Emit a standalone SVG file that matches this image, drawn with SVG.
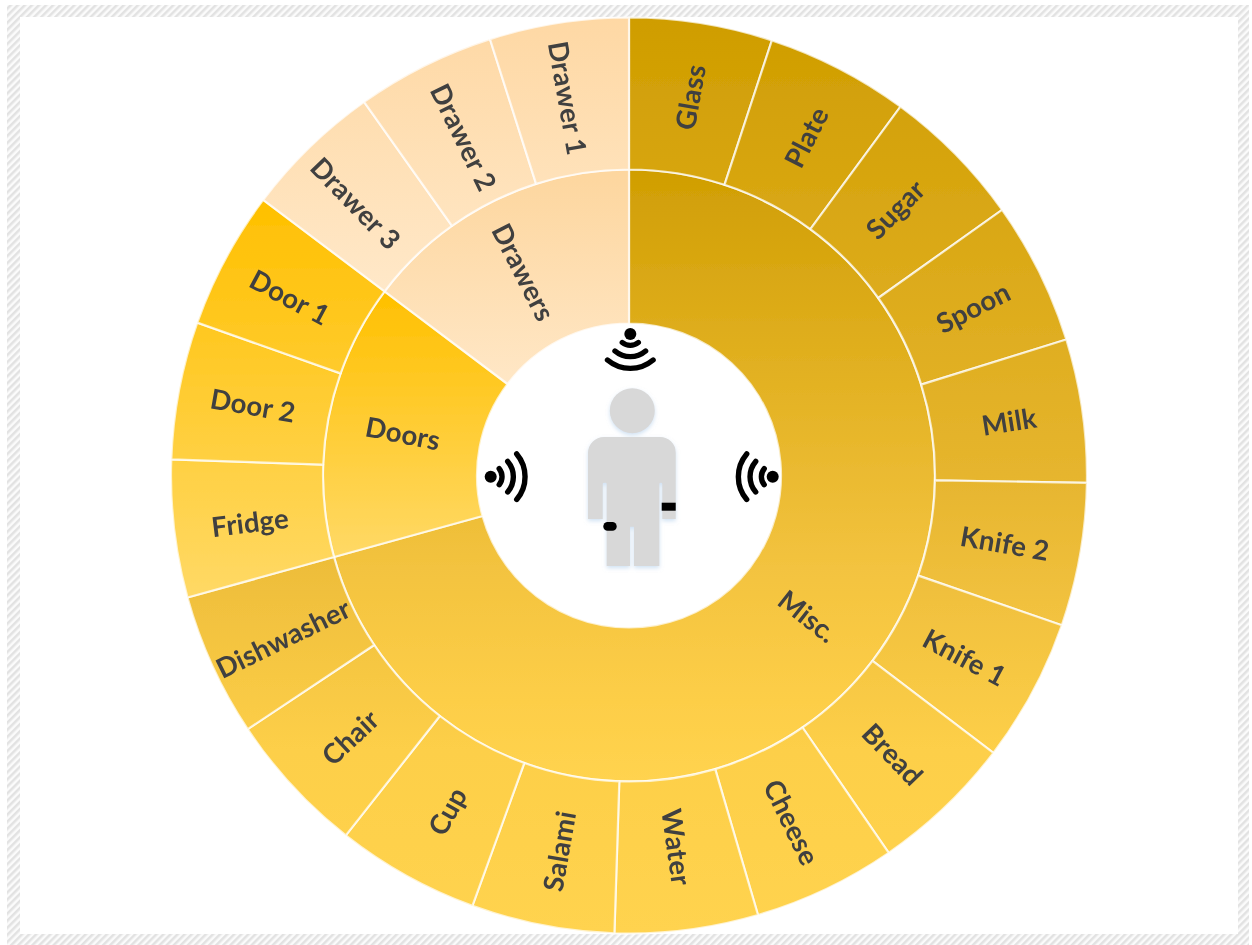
<svg xmlns="http://www.w3.org/2000/svg" width="1252" height="945" viewBox="0 0 1252 945">
<style>
.s{stroke:#fff;stroke-opacity:.72;stroke-width:2.2;stroke-linejoin:round}
.m{fill:url(#gm)}.mi{fill:url(#gmi)}.do{fill:url(#gdo)}.di{fill:url(#gdi)}.dro{fill:url(#gro)}.dri{fill:url(#gri)}
text{font-family:Lato,"Liberation Sans",sans-serif;font-weight:700;font-size:27.5px;letter-spacing:.2px;fill:#404040;text-anchor:middle;dominant-baseline:central}
.w{fill:none;stroke:#000;stroke-width:5.4;stroke-linecap:round}
.body{fill:#d8d8d8}
</style>
<defs>
<pattern id="hatch" width="5" height="5" patternUnits="userSpaceOnUse" patternTransform="rotate(45)"><rect width="5" height="5" fill="#fbfbfb"/><rect width="2.5" height="5" fill="#e2e2e2"/></pattern>
<filter id="soft" x="-2%" y="-2%" width="104%" height="104%"><feGaussianBlur stdDeviation="0.7"/></filter>
<filter id="shadow" x="-20%" y="-20%" width="140%" height="140%"><feDropShadow dx="0" dy="2" stdDeviation="2" flood-color="#a8c8e8" flood-opacity=".55"/></filter>
<linearGradient id="gm" gradientUnits="userSpaceOnUse" x1="0" y1="17" x2="0" y2="933"><stop offset="0" stop-color="#cf9d00"/><stop offset=".5" stop-color="#e6b52e"/><stop offset=".64" stop-color="#f1c13e"/><stop offset=".8" stop-color="#fdcf48"/><stop offset="1" stop-color="#ffd34f"/></linearGradient>
<linearGradient id="gmi" gradientUnits="userSpaceOnUse" x1="0" y1="170" x2="0" y2="781"><stop offset="0" stop-color="#d09e03"/><stop offset=".65" stop-color="#f3c33f"/><stop offset=".87" stop-color="#fdce47"/><stop offset="1" stop-color="#ffd34f"/></linearGradient>
<linearGradient id="gdo" gradientUnits="userSpaceOnUse" x1="0" y1="200" x2="0" y2="600"><stop offset="0" stop-color="#ffc000"/><stop offset="1" stop-color="#ffd966"/></linearGradient>
<linearGradient id="gdi" gradientUnits="userSpaceOnUse" x1="0" y1="291" x2="0" y2="557"><stop offset="0" stop-color="#ffc000"/><stop offset="1" stop-color="#ffd966"/></linearGradient>
<linearGradient id="gro" gradientUnits="userSpaceOnUse" x1="0" y1="17" x2="0" y2="290"><stop offset="0" stop-color="#fed8a4"/><stop offset="1" stop-color="#ffe8c8"/></linearGradient>
<linearGradient id="gri" gradientUnits="userSpaceOnUse" x1="0" y1="170" x2="0" y2="384"><stop offset="0" stop-color="#fdd69e"/><stop offset="1" stop-color="#ffe7c6"/></linearGradient>
</defs>
<rect width="1252" height="945" fill="#fff"/>
<g filter="url(#soft)">
<path id="frame" fill="url(#hatch)" fill-rule="evenodd" d="M7 5H1249V947H7ZM20 17V934H1238V17Z"/>
<g id="rings">
<g id="misc"><path class="s mi" d="M629 169.5A306 306 0 1 1 334 557L482.5 516A152 152 0 1 0 629 323.5Z"/><text transform="translate(808 616) rotate(38)">Misc.</text></g>
<g id="doors"><path class="s di" d="M334 557A306 306 0 0 1 384.6 291.3L507.6 384A152 152 0 0 0 482.5 516Z"/><text transform="translate(403 433) rotate(11)">Doors</text></g>
<g id="drawers"><path class="s dri" d="M384.6 291.3A306 306 0 0 1 629 169.5V323.5A152 152 0 0 0 507.6 384Z"/><text transform="translate(524 272) rotate(63)">Drawers</text></g>

<g id="glass"><path class="s m" d="M629 17.5A458 458 0 0 1 771.9 40.4L724.5 184.8A306 306 0 0 0 629 169.5Z"/><text transform="translate(690 97) rotate(-80)">Glass</text></g>
<g id="plate"><path class="s m" d="M771.9 40.4A458 458 0 0 1 900.5 106.7L810.4 229.1A306 306 0 0 0 724.5 184.8Z"/><text transform="translate(806 137) rotate(-63)">Plate</text></g>
<g id="sugar"><path class="s m" d="M900.5 106.7A458 458 0 0 1 1002.1 209.9L878.3 298A306 306 0 0 0 810.4 229.1Z"/><text transform="translate(895 209) rotate(-45)">Sugar</text></g>
<g id="spoon"><path class="s m" d="M1002.1 209.9A458 458 0 0 1 1066.3 339.5L921.2 384.6A306 306 0 0 0 878.3 298Z"/><text transform="translate(973 307) rotate(-27)">Spoon</text></g>
<g id="milk"><path class="s m" d="M1066.3 339.5A458 458 0 0 1 1086.9 482.8L935 480.4A306 306 0 0 0 921.2 384.6Z"/><text transform="translate(1009 421) rotate(-9)">Milk</text></g>
<g id="knife2"><path class="s m" d="M1086.9 482.8A458 458 0 0 1 1061.8 625.3L918.2 575.6A306 306 0 0 0 935 480.4Z"/><text transform="translate(1005 543) rotate(10)">Knife 2</text></g>
<g id="knife1"><path class="s m" d="M1061.8 625.3A458 458 0 0 1 993.4 752.9L872.5 660.8A306 306 0 0 0 918.2 575.6Z"/><text transform="translate(965 657) rotate(28)">Knife 1</text></g>
<g id="bread"><path class="s m" d="M993.4 752.9A458 458 0 0 1 888.7 852.8L802.5 727.5A306 306 0 0 0 872.5 660.8Z"/><text transform="translate(893 754) rotate(46)">Bread</text></g>
<g id="cheese"><path class="s m" d="M888.7 852.8A458 458 0 0 1 758 915L715.2 769.1A306 306 0 0 0 802.5 727.5Z"/><text transform="translate(792 822) rotate(64)">Cheese</text></g>
<g id="water"><path class="s m" d="M758 915A458 458 0 0 1 614.4 933.3L619.3 781.3A306 306 0 0 0 715.2 769.1Z"/><text transform="translate(677 847) rotate(82)">Water</text></g>
<g id="salami"><path class="s m" d="M614.4 933.3A458 458 0 0 1 472.4 905.9L524.3 763A306 306 0 0 0 619.3 781.3Z"/><text transform="translate(559 851) rotate(-80)">Salami</text></g>
<g id="cup"><path class="s m" d="M472.4 905.9A458 458 0 0 1 345.8 835.4L439.8 716A306 306 0 0 0 524.3 763Z"/><text transform="translate(447 811) rotate(-61)">Cup</text></g>
<g id="chair"><path class="s m" d="M345.8 835.4A458 458 0 0 1 247.7 729.2L374.2 645A306 306 0 0 0 439.8 716Z"/><text transform="translate(350 737) rotate(-43)">Chair</text></g>
<g id="dishwasher"><path class="s m" d="M247.7 729.2A458 458 0 0 1 187.5 597.5L334 557A306 306 0 0 0 374.2 645Z"/><text transform="translate(283 638) rotate(-26)">Dishwasher</text></g>
<g id="fridge"><path class="s do" d="M187.5 597.5A458 458 0 0 1 171.3 459.3L323.2 464.7A306 306 0 0 0 334 557Z"/><text transform="translate(250 522) rotate(-7)">Fridge</text></g>
<g id="door2"><path class="s do" d="M171.3 459.3A458 458 0 0 1 197.3 322.6L340.6 373.4A306 306 0 0 0 323.2 464.7Z"/><text transform="translate(253 405) rotate(10)">Door 2</text></g>
<g id="door1"><path class="s do" d="M197.3 322.6A458 458 0 0 1 263.2 199.9L384.6 291.3A306 306 0 0 0 340.6 373.4Z"/><text transform="translate(290 297) rotate(28)">Door 1</text></g>
<g id="drawer3"><path class="s dro" d="M263.2 199.9A458 458 0 0 1 364.1 101.9L452 225.9A306 306 0 0 0 384.6 291.3Z"/><text transform="translate(356 203) rotate(46)">Drawer 3</text></g>
<g id="drawer2"><path class="s dro" d="M364.1 101.9A458 458 0 0 1 490 39.1L536.1 183.9A306 306 0 0 0 452 225.9Z"/><text transform="translate(464 137) rotate(64)">Drawer 2</text></g>
<g id="drawer1"><path class="s dro" d="M490 39.1A458 458 0 0 1 629 17.5V169.5A306 306 0 0 0 536.1 183.9Z"/><text transform="translate(568 98) rotate(80)">Drawer 1</text></g>
</g>
<g id="person">
<g filter="url(#shadow)">
<circle class="body" cx="632.3" cy="410.7" r="22.5"/>
<path class="body" d="M604 437H660A15.7 15.7 0 0 1 675.7 452.7V519H662.3V484Q662.3 482.7 661 482.7H660.6Q659.3 482.7 659.3 484V566H634V526.7H630V566H606.7V484Q606.7 482.7 605.4 482.7H604Q602.7 482.7 602.7 484V519H588V453A16 16 0 0 1 604 437Z"/>
</g>
<rect x="661.7" y="502.7" width="14" height="8"/>
<rect x="603.3" y="522" width="13.4" height="8.7" rx="4.3"/>
</g>
<g id="signal-top">
<circle cx="630.3" cy="334" r="6"/>
<path class="w" d="M622.3 342.5A12.7 12.7 0 0 0 638.3 342.5M615 351A23.5 23.5 0 0 0 645.6 351M607.5 360A35.3 35.3 0 0 0 653.1 360"/>
</g>
<g id="signal-left">
<circle cx="490.7" cy="476.7" r="6"/>
<path class="w" d="M499.2 468.7A12.7 12.7 0 0 1 499.2 484.7M507.7 461.4A23.5 23.5 0 0 1 507.7 492M516.7 453.9A35.3 35.3 0 0 1 516.7 499.5"/>
</g>
<g id="signal-right">
<circle cx="772.7" cy="476.7" r="6"/>
<path class="w" d="M764.2 468.7A12.7 12.7 0 0 0 764.2 484.7M755.7 461.4A23.5 23.5 0 0 0 755.7 492M746.7 453.9A35.3 35.3 0 0 0 746.7 499.5"/>
</g>
</g>
</svg>
